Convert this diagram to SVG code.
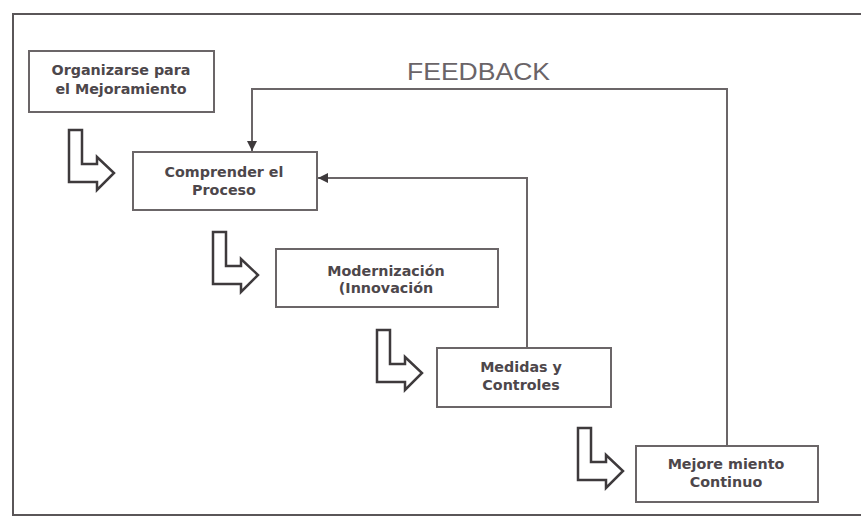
<svg xmlns="http://www.w3.org/2000/svg" xmlns:xlink="http://www.w3.org/1999/xlink" width="861" height="517" viewBox="0 0 861 517">
  <style>
    .frame { fill: none; stroke: #5a5658; stroke-width: 2; }
    .box { fill: #ffffff; stroke: #6b6668; stroke-width: 2; }
    .lbl { font-family: "DejaVu Sans", "Liberation Sans", sans-serif; font-weight: bold; font-size: 14.3px; fill: #4d474b; text-anchor: middle; }
    .conn { fill: none; stroke: #6b6668; stroke-width: 2; }
    .bent { fill: #ffffff; stroke: #3e3a3c; stroke-width: 2.5; stroke-linejoin: miter; }
    .fb { font-family: "Liberation Sans", "DejaVu Sans", sans-serif; font-size: 23.5px; fill: #6a6468; }
  </style>
  <defs>
    <marker id="ah" viewBox="0 0 10 10" refX="10" refY="5" markerWidth="5" markerHeight="5" orient="auto" markerUnits="strokeWidth">
      <path d="M0,0 L10,5 L0,10 Z" fill="#3e3a3c"/>
    </marker>
    <polygon id="bentArrow" points="0,0 13,0 13,34 28,34 28,27 45,43 28,60 28,52 0,52" class="bent"/>
  </defs>
  <rect x="0" y="0" width="861" height="517" fill="#ffffff"/>
  <rect x="13" y="14" width="870" height="501" class="frame"/>

  <text class="fb" x="407" y="80" textLength="143" lengthAdjust="spacingAndGlyphs">FEEDBACK</text>

  <g id="connectors">
    <polyline class="conn" points="727,446 727,89 252,89 252,151" marker-end="url(#ah)"/>
    <polyline class="conn" points="527,348 527,178 318,178" marker-end="url(#ah)"/>
    <use xlink:href="#bentArrow" x="69" y="130"/>
    <use xlink:href="#bentArrow" x="213" y="232"/>
    <use xlink:href="#bentArrow" x="377" y="330"/>
    <use xlink:href="#bentArrow" x="578" y="428"/>
  </g>

  <g id="node-organizarse">
    <rect class="box" x="29" y="51" width="185" height="61"/>
    <text class="lbl" x="121" y="75">Organizarse para</text>
    <text class="lbl" x="121" y="94">el Mejoramiento</text>
  </g>
  <g id="node-comprender">
    <rect class="box" x="133" y="152" width="184" height="58"/>
    <text class="lbl" x="224" y="177">Comprender el</text>
    <text class="lbl" x="224" y="195">Proceso</text>
  </g>
  <g id="node-modernizacion">
    <rect class="box" x="276" y="249" width="222" height="58"/>
    <text class="lbl" x="386" y="276">Modernización</text>
    <text class="lbl" x="386" y="293">(Innovación</text>
  </g>
  <g id="node-medidas">
    <rect class="box" x="437" y="348" width="174" height="59"/>
    <text class="lbl" x="521" y="372">Medidas y</text>
    <text class="lbl" x="521" y="390">Controles</text>
  </g>
  <g id="node-mejoramiento">
    <rect class="box" x="636" y="446" width="182" height="56"/>
    <text class="lbl" x="726" y="469">Mejore miento</text>
    <text class="lbl" x="726" y="487">Continuo</text>
  </g>
</svg>
